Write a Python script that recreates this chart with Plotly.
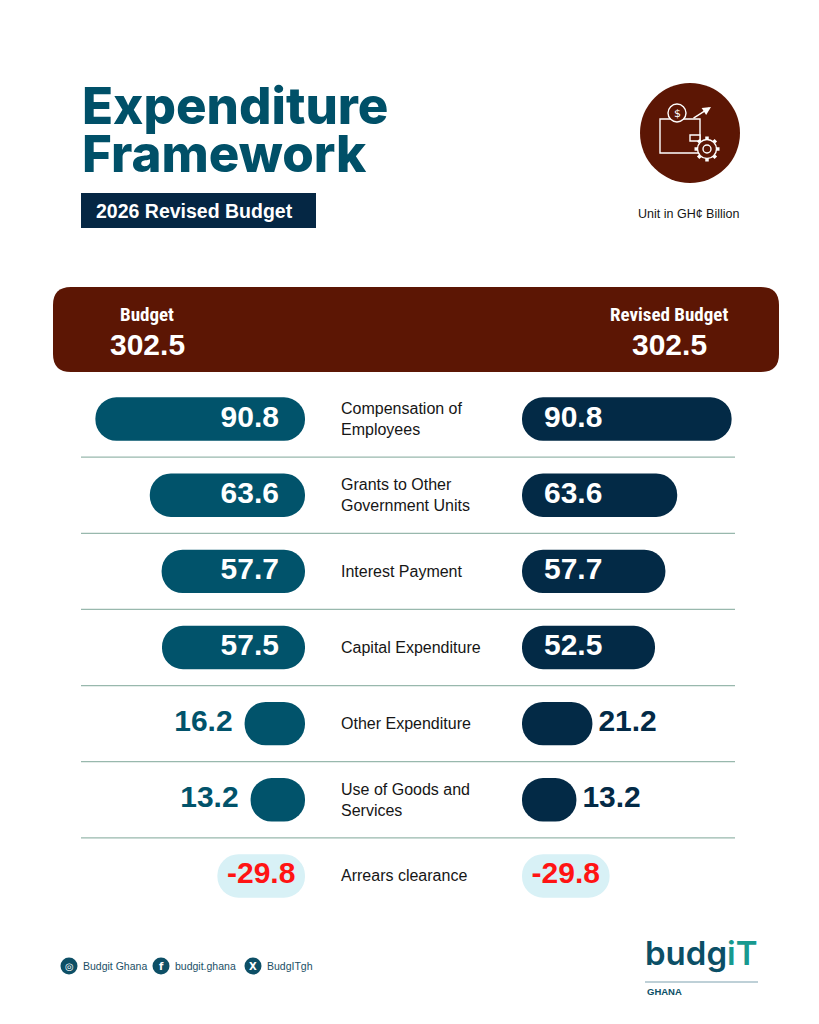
import math
import plotly.graph_objects as go

# Data read from the infographic (GH¢ billion)
categories = ["Compensation of<br>Employees", "Grants to Other<br>Government Units", "Interest Payment",
              "Capital Expenditure", "Other Expenditure", "Use of Goods and<br>Services", "Arrears clearance"]
budget = [90.8, 63.6, 57.7, 57.5, 16.2, 13.2, -29.8]
revised = [90.8, 63.6, 57.7, 52.5, 21.2, 13.2, -29.8]
total_budget = 302.5
total_revised = 302.5
socials = ["Budgit Ghana", "budgit.ghana", "BudgITgh"]

W, H = 819, 1024
TEAL = "#01536b"
NAVY = "#032a46"
BROWN = "#5c1604"
NEG_FILL = "#d8f1f6"
RED = "#ff1414"
PAD = 14  # minimum pill length so small values still show a pill


def px(x):
    return x / W


def py(y):
    return 1 - y / H


def rrect(x0, y0, x1, y1, r):
    pts = [("M", x0 + r, y0), ("L", x1 - r, y0), ("Q", x1, y0, x1, y0 + r), ("L", x1, y1 - r),
           ("Q", x1, y1, x1 - r, y1), ("L", x0 + r, y1), ("Q", x0, y1, x0, y1 - r), ("L", x0, y0 + r),
           ("Q", x0, y0, x0 + r, y0)]
    s = ""
    for p in pts:
        s += p[0] + " " + " ".join(f"{px(p[i]):.5f},{py(p[i + 1]):.5f}" for i in range(1, len(p), 2)) + " "
    return s + "Z"


def note(x, y, text, size, color, family="Liberation Sans", weight="normal", xanchor="center",
         yanchor="middle", yref="paper", **kw):
    return dict(x=x, y=y, xref="paper", yref=yref, text=text, showarrow=False, xanchor=xanchor,
                yanchor=yanchor, font=dict(family=family, size=size, color=color, weight=weight), **kw)


def pill(vals, xaxis, color):
    # a bar with an explicit base gets all four corners rounded -> pill shape
    lens = [abs(v) + PAD for v in vals]
    cols = [NEG_FILL if v < 0 else color for v in vals]
    return go.Bar(x=lens, base=[0] * len(lens), y=categories, orientation="h", xaxis=xaxis, yaxis="y",
                  hoverinfo="skip", marker=dict(color=cols, cornerradius="50%", line=dict(width=0)),
                  showlegend=False)


def labels(vals, xaxis, color, side, inside_x, gap):
    xs, pos, cols = [], [], []
    for v in vals:
        L = abs(v) + PAD
        if v < 0:
            xs.append(L / 2); pos.append("middle center"); cols.append(RED)
        elif v > 30:
            xs.append(inside_x); pos.append("middle " + side); cols.append("white")
        else:
            xs.append(L + gap); pos.append("middle " + side); cols.append(color)
    return go.Scatter(x=xs, y=categories, xaxis=xaxis, yaxis="y", mode="text",
                      text=[f"{v:.1f}" for v in vals], textposition=pos, hoverinfo="skip",
                      textfont=dict(family="Liberation Sans", size=30, color=cols, weight="bold"),
                      showlegend=False)


fig = go.Figure()
fig.add_trace(pill(budget, "x", TEAL))
fig.add_trace(pill(revised, "x2", NAVY))
fig.add_trace(labels(budget, "x", TEAL, "left", 13, 6))
fig.add_trace(labels(revised, "x2", NAVY, "right", 11, 3))

shapes = []
annotations = []

# title block
annotations.append(note(px(80), py(105), "Expenditure", 51, "#005068", family="Inter", weight=800,
                        xanchor="left"))
annotations.append(note(px(80), py(153), "Framework", 51, "#005068", family="Inter", weight=800,
                        xanchor="left"))
shapes.append(dict(type="rect", xref="paper", yref="paper", x0=px(81), x1=px(316), y0=py(228), y1=py(193),
                   fillcolor="#052744", line=dict(width=0)))
annotations.append(note(px(94), py(211), "2026 Revised Budget", 19.5, "white", weight="bold", xanchor="left"))

# icon
shapes.append(dict(type="circle", xref="paper", yref="paper", x0=px(640), x1=px(740), y0=py(183), y1=py(83),
                   fillcolor=BROWN, line=dict(width=0)))
ic = dict(color="white", width=1.4)
shapes.append(dict(type="rect", xref="paper", yref="paper", x0=px(660), x1=px(700), y0=py(153), y1=py(119),
                   line=ic, fillcolor=BROWN))
shapes.append(dict(type="rect", xref="paper", yref="paper", x0=px(690), x1=px(700), y0=py(141), y1=py(135),
                   line=ic, fillcolor=BROWN))
shapes.append(dict(type="circle", xref="paper", yref="paper", x0=px(668), x1=px(686), y0=py(122), y1=py(104),
                   line=ic, fillcolor=BROWN))
annotations.append(note(px(677), py(113), "$", 11, "white", family="DejaVu Sans"))
annotations.append(dict(x=px(711), y=py(107), xref="paper", yref="paper", ax=-19, ay=12, text="",
                        showarrow=True, arrowhead=2, arrowsize=1.2, arrowwidth=1.4, arrowcolor="white"))
gx, gy = 707, 149
for k in range(8):
    a = k * math.pi / 4
    shapes.append(dict(type="line", xref="paper", yref="paper",
                       x0=px(gx + 8 * math.cos(a)), y0=py(gy + 8 * math.sin(a)),
                       x1=px(gx + 12.5 * math.cos(a)), y1=py(gy + 12.5 * math.sin(a)),
                       line=dict(color="white", width=3.5)))
shapes.append(dict(type="circle", xref="paper", yref="paper", x0=px(gx - 9.5), x1=px(gx + 9.5),
                   y0=py(gy + 9.5), y1=py(gy - 9.5), line=ic, fillcolor=BROWN))
shapes.append(dict(type="circle", xref="paper", yref="paper", x0=px(gx - 4), x1=px(gx + 4),
                   y0=py(gy + 4), y1=py(gy - 4), line=ic, fillcolor=BROWN))
annotations.append(note(px(688), py(214), "Unit in GH¢ Billion", 12.5, "#151515"))

# header bar with totals
shapes.append(dict(type="path", xref="paper", yref="paper", path=rrect(53, 287, 779, 372, 18),
                   fillcolor=BROWN, line=dict(width=0)))
for cx, lab, val in [(147, "Budget", total_budget), (669, "Revised Budget", total_revised)]:
    annotations.append(note(px(cx), py(314), lab, 19, "white", family="Roboto Condensed, Roboto",
                            weight="bold"))
    annotations.append(note(px(cx), py(344), f"{val:.1f}", 30, "white", weight="bold"))

# row labels and separators
for i, c in enumerate(categories):
    annotations.append(note(px(339), i, c, 16, "#161616", xanchor="left", yref="y", align="left"))
    if i < len(categories) - 1:
        shapes.append(dict(type="line", xref="paper", yref="y", x0=px(81), x1=px(735), y0=i + 0.5, y1=i + 0.5,
                           line=dict(color="#98b8ad", width=1.3)))

# footer socials
for cx, name, glyph in zip([69, 161, 253], socials, ["◎", "f", "X"]):
    shapes.append(dict(type="circle", xref="paper", yref="paper", x0=px(cx - 8.5), x1=px(cx + 8.5),
                       y0=py(974.5), y1=py(957.5), fillcolor="#0d4f66", line=dict(width=0)))
    annotations.append(note(px(cx), py(966), glyph, 10, "white", family="DejaVu Sans", weight="bold"))
    annotations.append(note(px(cx + 12), py(966), name, 10.5, "#1b4f66", xanchor="left"))

# logo
annotations.append(note(px(643), py(953), "budg<span style='color:#17998f'>iT</span>", 33, "#0b4f66",
                        family="Inter", weight=600, xanchor="left"))
shapes.append(dict(type="line", xref="paper", yref="paper", x0=px(645), x1=px(758), y0=py(982), y1=py(982),
                   line=dict(color="#a9c1ca", width=1.5)))
annotations.append(note(px(645), py(991), "GHANA", 9.5, "#0b4f66", weight="bold", xanchor="left"))

fig.update_layout(
    width=W, height=H, margin=dict(l=0, r=0, t=0, b=0),
    paper_bgcolor="white", plot_bgcolor="white",
    barmode="overlay", bargap=0.43, showlegend=False,
    xaxis=dict(domain=[px(65), px(305)], range=[120, 0], visible=False, fixedrange=True),
    xaxis2=dict(domain=[px(522), px(762)], range=[0, 120], visible=False, anchor="y", fixedrange=True),
    yaxis=dict(domain=[py(914), py(381)], type="category", categoryarray=categories,
               autorange="reversed", visible=False, fixedrange=True),
    shapes=shapes, annotations=annotations,
)

fig.write_html("out.html", config={"displayModeBar": False},
               post_script="document.body.style.margin='0px';")
